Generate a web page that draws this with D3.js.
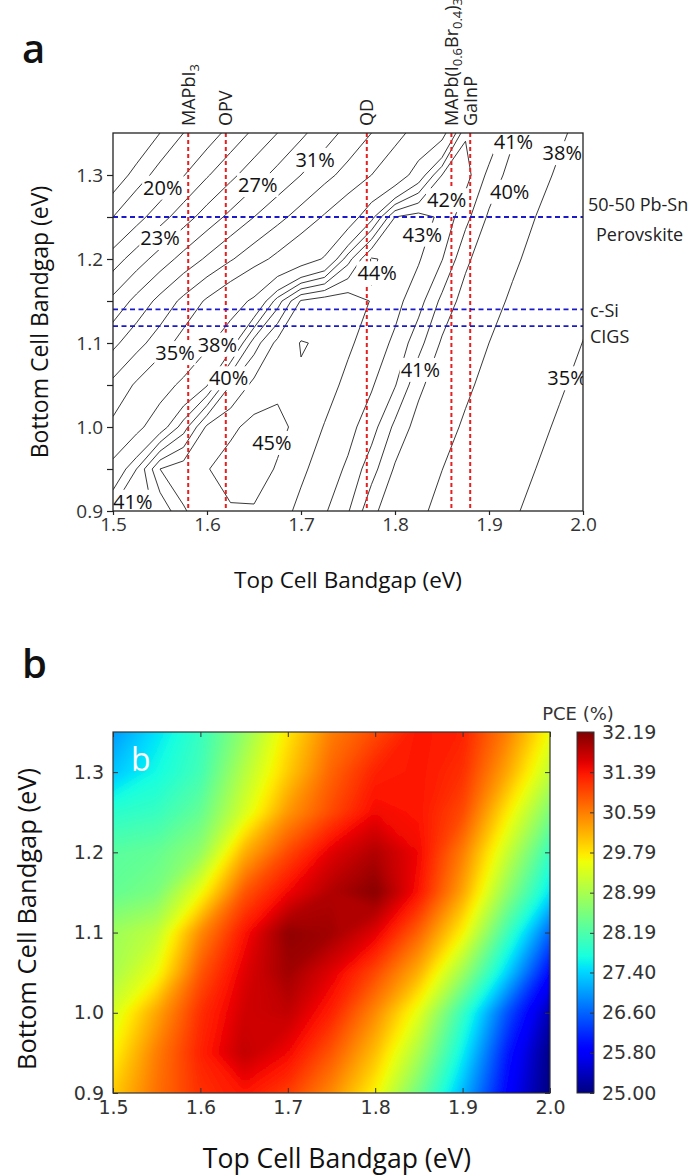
<!DOCTYPE html>
<html>
<head>
<meta charset="utf-8">
<script src="https://cdn.jsdelivr.net/npm/d3@7"></script>
<style>
  body { margin: 0; background: #fff; }
  svg { display: block; font-family: "Open Sans", sans-serif; }
</style>
</head>
<body>
<div id="chart"></div>
<script>
// ---------------- data ----------------

// panel a: efficiency grid (%), rows = bottom cell gap, cols = top cell gap
var topGapA = [1.500, 1.525, 1.550, 1.575, 1.600, 1.625, 1.650, 1.675, 1.700, 1.725, 1.750,
               1.775, 1.800, 1.825, 1.850, 1.875, 1.900, 1.925, 1.950, 1.975, 2.000];
var bottomGapA = [0.90, 0.95, 1.00, 1.05, 1.10, 1.15, 1.20, 1.25, 1.30, 1.35];
var effA = [
  [41.2, 41.6, 42.2, 43.9, 44.6, 44.9, 44.9, 44.43, 43.75, 43.13, 42.09, 40.29, 39.26, 38.33, 37.52, 36.76, 36.0, 35.24, 34.49, 33.75, 33.0],
  [38.8, 41.0, 44.0, 44.6, 44.95, 45.4, 45.5, 44.9, 44.19, 43.54, 42.84, 41.41, 39.87, 38.94, 38.02, 37.26, 36.5, 35.74, 34.99, 34.24, 33.49],
  [35.5, 37.4, 39.3, 41.5, 44.2, 44.8, 45.3, 45.3, 44.66, 43.95, 43.33, 42.45, 40.76, 39.56, 38.63, 37.76, 37.0, 36.24, 35.48, 34.73, 33.99],
  [33.5, 35.3, 37.0, 38.5, 39.9, 43.0, 44.3, 44.75, 44.9, 44.42, 43.74, 43.11, 42.07, 40.27, 39.24, 38.31, 37.5, 36.74, 35.98, 35.23, 34.48],
  [30.5, 32.3, 34.0, 35.8, 37.6, 39.3, 42.5, 44.3, 45.05, 44.89, 44.17, 43.53, 42.82, 41.36, 39.85, 38.93, 38.0, 37.24, 36.49, 35.73, 34.97],
  [27.5, 29.6, 31.6, 33.5, 35.3, 36.9, 38.4, 41.5, 44.1, 44.6, 44.6, 43.94, 43.31, 42.43, 40.74, 39.54, 38.61, 37.74, 36.98, 36.23, 35.47],
  [24.0, 26.0, 27.9, 29.7, 31.3, 32.8, 34.2, 35.5, 36.8, 38.2, 41.6, 44.1, 43.73, 43.1, 42.05, 40.24, 39.22, 38.3, 37.48, 36.73, 35.97],
  [20.0, 22.2, 24.2, 26.1, 27.9, 29.5, 31.0, 32.4, 33.8, 35.2, 36.6, 39.6, 43.0, 43.4, 42.8, 41.32, 39.83, 38.91, 37.98, 37.23, 36.47],
  [16.5, 18.8, 20.9, 22.9, 24.8, 26.5, 28.1, 29.6, 31.0, 32.4, 33.7, 35.0, 36.3, 39.2, 42.0, 42.41, 40.71, 39.52, 38.59, 37.73, 36.97],
  [13.5, 15.8, 18.0, 20.0, 21.9, 23.7, 25.4, 27.0, 28.6, 30.1, 31.6, 33.0, 34.4, 35.7, 37.2, 41.9, 41.85, 40.21, 39.2, 38.28, 37.47]
];
var levelsA = [18, 20, 23, 25, 27, 29, 31, 33, 35, 38, 40, 41, 42, 43, 44, 45];

// contour labels (text, top gap, bottom gap)
var labelText = ["20%", "23%", "27%", "31%", "35%", "38%", "40%", "45%", "44%", "43%", "42%", "41%", "38%", "40%", "41%", "35%", "41%"];
var labelX    = [1.553, 1.550, 1.654, 1.715, 1.566, 1.611, 1.623, 1.669, 1.781, 1.829, 1.855, 1.926, 1.978, 1.922, 1.827, 1.983, 1.521];
var labelY    = [1.285, 1.225, 1.288, 1.318, 1.088, 1.098, 1.058, 0.981, 1.183, 1.229, 1.270, 1.339, 1.326, 1.280, 1.068, 1.058, 0.911];

// reference absorbers
var topNames = ["MAPbI3", "OPV", "QD", "MAPb(I0.6Br0.4)3", "GaInP"];
var topGaps = [1.58, 1.62, 1.77, 1.86, 1.88];
var bottomNames = ["50-50 Pb-Sn|Perovskite", "c-Si", "CIGS"];
var bottomGaps = [1.25, 1.14, 1.12];

// panel b: PCE grid (%)
var topGapB = [1.50, 1.55, 1.60, 1.65, 1.70, 1.75, 1.80, 1.85, 1.90, 1.95, 2.00];
var bottomGapB = [0.90, 0.95, 1.00, 1.05, 1.10, 1.15, 1.20, 1.25, 1.30, 1.35];
var pceB = [
  [30.0, 30.7, 31.2, 31.4, 31.1, 30.5, 29.7, 28.5, 27.2, 25.9, 25.0],
  [29.7, 30.6, 31.3, 31.8, 31.5, 30.9, 30.1, 29.0, 27.6, 26.1, 25.05],
  [29.4, 30.3, 31.2, 31.7, 31.8, 31.3, 30.5, 29.5, 28.0, 26.5, 25.3],
  [29.0, 29.6, 30.9, 31.6, 32.0, 31.6, 31.0, 30.2, 28.9, 27.4, 25.9],
  [28.9, 29.2, 30.5, 31.4, 32.1, 32.0, 31.6, 30.8, 29.7, 28.1, 26.6],
  [28.4, 28.6, 29.6, 30.9, 31.5, 31.9, 32.15, 31.4, 30.3, 28.8, 27.5],
  [28.3, 28.4, 28.8, 30.2, 31.0, 31.6, 31.9, 31.5, 30.6, 29.3, 28.0],
  [27.9, 28.0, 28.4, 29.4, 30.4, 31.0, 31.5, 31.4, 31.0, 29.8, 28.6],
  [27.3, 27.7, 28.1, 29.1, 30.0, 30.8, 31.3, 31.4, 31.2, 30.3, 29.2],
  [27.0, 27.5, 28.0, 28.8, 29.8, 30.6, 31.0, 31.4, 31.3, 30.6, 29.6]
];
var cbTicks = ["25.00", "25.80", "26.60", "27.40", "28.19", "28.99", "29.79", "30.59", "31.39", "32.19"];
var xTicks = [1.5, 1.6, 1.7, 1.8, 1.9, 2.0];
var yTicks = [0.9, 1.0, 1.1, 1.2, 1.3];

// ---------------- helpers ----------------

// matplotlib "jet"
var jetR = d3.scaleLinear().domain([0, 0.35, 0.66, 0.89, 1]).range([0, 0, 1, 1, 0.5]).clamp(true);
var jetG = d3.scaleLinear().domain([0, 0.125, 0.375, 0.64, 0.91, 1]).range([0, 0, 1, 1, 0, 0]).clamp(true);
var jetB = d3.scaleLinear().domain([0, 0.11, 0.34, 0.65, 1]).range([0.5, 1, 1, 0, 0]).clamp(true);
function jet(t) {
  return d3.rgb(jetR(t) * 255, jetG(t) * 255, jetB(t) * 255).toString();
}

// grid index -> data value (linear, extrapolates past the ends)
function indexScale(arr) {
  return d3.scaleLinear().domain(arr.map((d, i) => i)).range(arr);
}

function gridPath(xs, ys, gx, gy) {
  var ix = indexScale(gx), iy = indexScale(gy);
  return d3.geoPath(d3.geoTransform({
    point: function(px, py) {
      this.stream.point(xs(ix(px - 0.5)), ys(iy(py - 0.5)));
    }
  }));
}

var svg = d3.select("#chart").append("svg")
  .attr("width", 699)
  .attr("height", 1175);
var defs = svg.append("defs");

// ---------------- panel a ----------------
var xA = d3.scaleLinear().domain([1.5, 2.0]).range([113, 583]);
var yA = d3.scaleLinear().domain([0.9, 1.35]).range([511, 133]);

defs.append("clipPath").attr("id", "clipA").append("rect")
  .attr("x", 113).attr("y", 133).attr("width", 470).attr("height", 378);

var plotA = svg.append("g").attr("clip-path", "url(#clipA)");

var contA = d3.contours()
  .size([topGapA.length, bottomGapA.length])
  .thresholds(levelsA)(effA.flat());

plotA.selectAll("path.iso")
  .data(contA)
  .join("path")
  .attr("class", "iso")
  .attr("d", gridPath(xA, yA, topGapA, bottomGapA))
  .attr("fill", "none")
  .attr("stroke", "#222")
  .attr("stroke-width", 0.9);

plotA.selectAll("line.top")
  .data(topGaps)
  .join("line")
  .attr("x1", d => xA(d)).attr("x2", d => xA(d))
  .attr("y1", yA(1.35)).attr("y2", yA(0.9))
  .attr("stroke", "#e52020")
  .attr("stroke-width", 2)
  .attr("stroke-dasharray", "4,3");

plotA.selectAll("line.bot")
  .data(bottomGaps)
  .join("line")
  .attr("x1", xA(1.5)).attr("x2", xA(2.0))
  .attr("y1", d => yA(d)).attr("y2", d => yA(d))
  .attr("stroke", "#1a1acc")
  .attr("stroke-width", 1.8)
  .attr("stroke-dasharray", "5,3.5");

// contour labels with white boxes breaking the lines
labelText.forEach(function(t, i) {
  var g = plotA.append("g");
  var txt = g.append("text")
    .attr("x", xA(labelX[i]))
    .attr("y", yA(labelY[i]))
    .attr("dy", "0.35em")
    .attr("text-anchor", "middle")
    .attr("font-size", 20)
    .attr("fill", "#111")
    .text(t);
  var bb = txt.node().getBBox();
  g.insert("rect", "text")
    .attr("x", bb.x - 1).attr("y", bb.y + 2)
    .attr("width", bb.width + 2).attr("height", bb.height - 3)
    .attr("fill", "#fff");
});

svg.append("rect")
  .attr("x", 113).attr("y", 133).attr("width", 470).attr("height", 378)
  .attr("fill", "none").attr("stroke", "#222").attr("stroke-width", 1.3);

var yAxisA = svg.append("g")
  .attr("transform", "translate(113,0)")
  .call(d3.axisLeft(yA).tickValues(yTicks).tickFormat(d3.format(".1f")).tickSize(6).tickPadding(4));
svg.append("g")
  .attr("transform", "translate(113,0)")
  .call(d3.axisLeft(yA).tickValues([0.95, 1.05, 1.15, 1.25]).tickFormat("").tickSize(6));
var xAxisA = svg.append("g")
  .attr("transform", "translate(0,511)")
  .call(d3.axisBottom(xA).tickValues(xTicks).tickFormat(d3.format(".1f")).tickSize(4).tickPadding(3));

svg.selectAll(".domain").remove();
svg.selectAll(".tick line").attr("stroke", "#222").attr("stroke-width", 1.2);
[yAxisA, xAxisA].forEach(function(ax) {
  ax.selectAll("text")
    .attr("font-family", "Open Sans")
    .attr("font-size", 19)
    .attr("fill", "#333");
});

// material labels above the frame (digits become subscripts)
var topLab = svg.selectAll("text.mat")
  .data(topNames)
  .join("text")
  .attr("class", "mat")
  .attr("transform", (d, i) => `translate(${xA(topGaps[i])},126) rotate(-90)`)
  .attr("dy", "0.35em")
  .attr("font-size", 18)
  .attr("fill", "#222");
topLab.each(function(d) {
  var el = d3.select(this);
  var parts = d.match(/[0-9.]+|[^0-9.]+/g);
  var lowered = false;
  parts.forEach(function(p) {
    if (/^[0-9.]+$/.test(p)) {
      el.append("tspan").attr("font-size", 13).attr("dy", 4).text(p);
      lowered = true;
    } else {
      var ts = el.append("tspan").text(p);
      if (lowered) { ts.attr("dy", -4); lowered = false; }
    }
  });
});

// material labels on the right
var rightLab = svg.selectAll("text.bmat")
  .data(bottomNames)
  .join("text")
  .attr("class", "bmat")
  .attr("font-size", 18)
  .attr("fill", "#222");
rightLab.each(function(d, i) {
  var el = d3.select(this);
  var lines = d.split("|");
  if (lines.length > 1) {
    el.append("tspan").attr("x", 588).attr("y", yA(bottomGaps[i]) - 6).text(lines[0]);
    el.append("tspan").attr("x", 596).attr("y", yA(bottomGaps[i]) + 24).text(lines[1]);
  } else {
    el.append("tspan").attr("x", 590)
      .attr("y", yA(bottomGaps[i]) + (i === 1 ? 8 : 17)).text(lines[0]);
  }
});

svg.append("text")
  .attr("x", 348).attr("y", 588)
  .attr("text-anchor", "middle")
  .attr("font-size", 22.5)
  .attr("fill", "#111")
  .text("Top Cell Bandgap (eV)");
svg.append("text")
  .attr("transform", "translate(40,322) rotate(-90)")
  .attr("text-anchor", "middle")
  .attr("dy", "0.35em")
  .attr("font-size", 23)
  .attr("fill", "#111")
  .text("Bottom Cell Bandgap (eV)");
svg.append("text")
  .attr("x", 22).attr("y", 63)
  .attr("font-size", 40)
  .attr("font-weight", 600)
  .attr("fill", "#111")
  .text("a");

// ---------------- panel b ----------------
var xB = d3.scaleLinear().domain([1.5, 2.0]).range([113, 550]);
var yB = d3.scaleLinear().domain([0.9, 1.35]).range([1093, 732]);
var cDom = [+cbTicks[0], +cbTicks[cbTicks.length - 1]];
var tNorm = d3.scaleLinear().domain(cDom).range([0, 1]);

defs.append("clipPath").attr("id", "clipB").append("rect")
  .attr("x", 113).attr("y", 732).attr("width", 437).attr("height", 361);
var blur = defs.append("filter").attr("id", "soft")
  .attr("x", "-5%").attr("y", "-5%").attr("width", "110%").attr("height", "110%");
blur.append("feGaussianBlur").attr("stdDeviation", 3);

var contB = d3.contours()
  .size([topGapB.length, bottomGapB.length])
  .thresholds(d3.range(cDom[0] - 0.05, cDom[1] + 0.05, 0.03))(pceB.flat());

svg.append("g").attr("clip-path", "url(#clipB)")
  .append("g").attr("filter", "url(#soft)")
  .selectAll("path")
  .data(contB)
  .join("path")
  .attr("d", gridPath(xB, yB, topGapB, bottomGapB))
  .attr("fill", d => jet(tNorm(d.value)))
  .attr("stroke", d => jet(tNorm(d.value)))
  .attr("stroke-width", 0.6);

svg.append("rect")
  .attr("x", 113).attr("y", 732).attr("width", 437).attr("height", 361)
  .attr("fill", "none").attr("stroke", "#333").attr("stroke-width", 1.2);

svg.append("text")
  .attr("x", 131).attr("y", 771)
  .attr("font-size", 32)
  .attr("fill", "#fff")
  .text("b");

var axB = [
  svg.append("g").attr("transform", "translate(113,0)")
    .call(d3.axisLeft(yB).tickValues(yTicks).tickFormat(d3.format(".1f")).tickSize(-5).tickPadding(9)),
  svg.append("g").attr("transform", "translate(0,1093)")
    .call(d3.axisBottom(xB).tickValues(xTicks).tickFormat(d3.format(".1f")).tickSize(-5).tickPadding(8)),
  svg.append("g").attr("transform", "translate(550,0)")
    .call(d3.axisRight(yB).tickValues(yTicks).tickFormat("").tickSize(-5)),
  svg.append("g").attr("transform", "translate(0,732)")
    .call(d3.axisTop(xB).tickValues(xTicks).tickFormat("").tickSize(-5))
];
axB.forEach(function(ax) {
  ax.select(".domain").remove();
  ax.selectAll(".tick line").attr("stroke", "#333");
  ax.selectAll("text")
    .attr("font-family", "DejaVu Sans")
    .attr("font-size", 19)
    .attr("fill", "#333");
});

// colour bar
var grad = defs.append("linearGradient").attr("id", "jetGrad")
  .attr("x1", 0).attr("y1", 1).attr("x2", 0).attr("y2", 0);
grad.selectAll("stop")
  .data(d3.range(0, 1.0001, 0.02))
  .join("stop")
  .attr("offset", d => d)
  .attr("stop-color", d => jet(d));

var cbY = d3.scaleLinear().domain(cDom).range([1093, 732]);
svg.append("rect")
  .attr("x", 577).attr("y", 732).attr("width", 17).attr("height", 361)
  .attr("fill", "url(#jetGrad)")
  .attr("stroke", "#333").attr("stroke-width", 1);

var cbAxis = svg.append("g").attr("transform", "translate(594,0)")
  .call(d3.axisRight(cbY).tickValues(cbTicks.map(Number))
    .tickFormat((d, i) => cbTicks[i]).tickSize(-4).tickPadding(8));
cbAxis.select(".domain").remove();
cbAxis.selectAll(".tick line").attr("stroke", "#333");
cbAxis.selectAll("text")
  .attr("font-family", "DejaVu Sans")
  .attr("font-size", 19)
  .attr("fill", "#333");

svg.append("text")
  .attr("x", 578).attr("y", 720)
  .attr("text-anchor", "middle")
  .attr("font-family", "DejaVu Sans")
  .attr("font-size", 18)
  .attr("fill", "#333")
  .text("PCE (%)");

svg.append("text")
  .attr("x", 337).attr("y", 1168)
  .attr("text-anchor", "middle")
  .attr("font-size", 26.5)
  .attr("fill", "#111")
  .text("Top Cell Bandgap (eV)");
svg.append("text")
  .attr("transform", "translate(27,919) rotate(-90)")
  .attr("text-anchor", "middle")
  .attr("dy", "0.35em")
  .attr("font-size", 25.5)
  .attr("fill", "#111")
  .text("Bottom Cell Bandgap (eV)");
svg.append("text")
  .attr("x", 22).attr("y", 678)
  .attr("font-size", 40)
  .attr("font-weight", 600)
  .attr("fill", "#111")
  .text("b");
</script>
</body>
</html>
